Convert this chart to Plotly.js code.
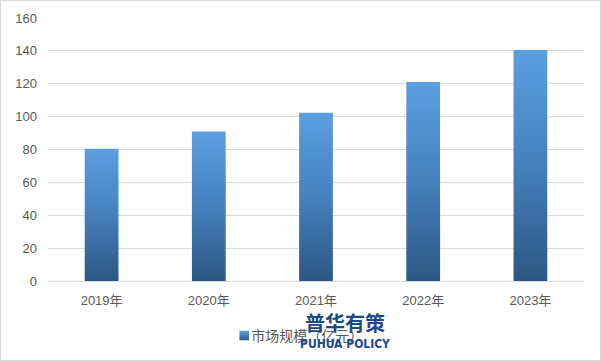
<!DOCTYPE html>
<html><head><meta charset="utf-8">
<script src="https://cdn.plot.ly/plotly-3.0.1.min.js"></script>
<style>
html,body{margin:0;padding:0;background:#fff;}
#wrap{width:599px;height:359px;border:1px solid #d9d9d9;}
#chart{width:599px;height:359px;}
</style></head>
<body><div id="wrap"><div id="chart"></div></div>
<script>
var categories = ["2019年","2020年","2021年","2022年","2023年"];
var values = [80.5, 91, 102.3, 121, 140.5];
var seriesName = "市场规模（亿元）";
var yTicks = [0,20,40,60,80,100,120,140,160];

var trace = {
  type: "bar", x: categories, y: values, name: seriesName,
  marker: {color: "#4a8acb"}, showlegend: true, hoverinfo: "skip"
};
var fam = "Liberation Sans, Noto Sans CJK SC, sans-serif";
var layout = {
  width: 599, height: 359,
  margin: {l: 47, r: 16, t: 17, b: 79},
  paper_bgcolor: "#fff", plot_bgcolor: "#fff",
  bargap: 0.685,
  font: {family: fam, size: 13, color: "#595959"},
  xaxis: {type: "category", showgrid: false, zeroline: false, showline: false, ticks: "", ticklabelstandoff: 10, tickfont: {size: 13, color: "#595959", family: fam}},
  yaxis: {range: [0, 160], tickvals: yTicks, showgrid: true, gridcolor: "#d9d9d9", gridwidth: 1, zeroline: true, zerolinecolor: "#d9d9d9", showline: false, ticks: "", ticklabelstandoff: 10, tickfont: {size: 13, color: "#595959", family: fam}},
  legend: {orientation: "h", yref: "container", xref: "container", x: 0.351, xanchor: "left", y: 0.067, yanchor: "middle", itemwidth: 30, font: {size: 14, color: "#595959", family: "Noto Sans CJK SC, sans-serif"}},
  annotations: [
    {xref: "paper", yref: "paper", x: 0.555, y: -0.156, xanchor: "center", yanchor: "middle", showarrow: false,
     text: "<b>普华有策</b>", font: {size: 20, color: "#1a4a8a", family: "Noto Sans CJK SC, sans-serif"}},
    {xref: "paper", yref: "paper", x: 0.555, y: -0.238, xanchor: "center", yanchor: "middle", showarrow: false,
     text: "<b>PUHUA POLICY</b>", font: {size: 12, color: "#1a4a8a", family: "DejaVu Sans Condensed, Roboto, sans-serif"}}
  ]
};
Plotly.newPlot("chart", [trace], layout, {displayModeBar: false, staticPlot: true}).then(function(gd){
  var svg = gd.querySelector("svg.main-svg");
  var ns = "http://www.w3.org/2000/svg";
  var defs = svg.querySelector("defs") || svg.insertBefore(document.createElementNS(ns,"defs"), svg.firstChild);
  var lg = document.createElementNS(ns, "linearGradient");
  lg.setAttribute("id","barGrad"); lg.setAttribute("x1","0"); lg.setAttribute("y1","0"); lg.setAttribute("x2","0"); lg.setAttribute("y2","1");
  [["0","#5b9fe0"],["0.5","#4580bd"],["1","#2c5783"]].forEach(function(s){
    var st = document.createElementNS(ns,"stop"); st.setAttribute("offset", s[0]); st.setAttribute("stop-color", s[1]); lg.appendChild(st);
  });
  defs.appendChild(lg);
  gd.querySelectorAll(".bars path").forEach(function(p){ p.style.fill = "url(#barGrad)"; });
  gd.querySelectorAll(".legend .legendpoints").forEach(function(g){
    g.setAttribute("transform", "translate(17,0) scale(0.8)");
    g.querySelectorAll("path").forEach(function(p){ p.style.fill = "url(#barGrad)"; });
  });
});
</script></body></html>
